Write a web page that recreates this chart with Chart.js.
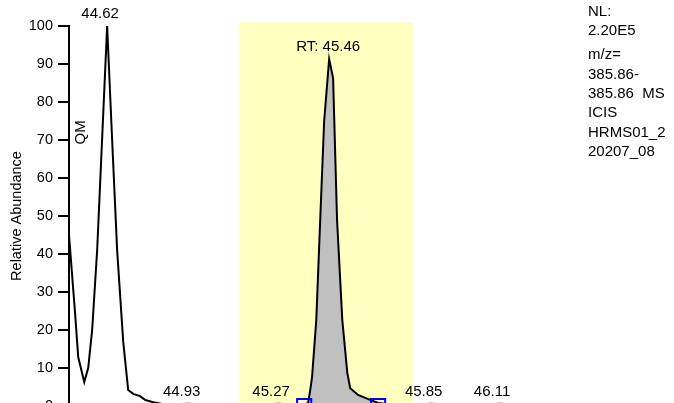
<!DOCTYPE html>
<html>
<head>
<meta charset="utf-8">
<script src="https://cdn.jsdelivr.net/npm/chart.js@4"></script>
<style>
  html,body{margin:0;padding:0;background:#fff;overflow:hidden;}
  #wrap{width:674px;height:430px;}
</style>
</head>
<body>
<div id="wrap"><canvas id="chrom" width="674" height="430"></canvas></div>
<script>
// retention time (min) and relative abundance (%)
const rtMinutes = [44.475,44.498,44.510,44.533,44.548,44.563,44.582,44.601,44.620,44.639,44.658,44.681,44.700,44.719,44.745,44.764,44.795,
  44.84,44.93,45.00,45.10,45.20,45.27,45.33,45.369,45.384,45.392,45.399,45.415,45.430,45.445,45.464,45.479,45.494,45.514,45.533,45.544,
  45.574,45.620,45.650,45.70,45.78,45.85,45.95,46.05,46.11,46.20,46.30,46.41];
const relAbundance = [45,24.5,12.9,6.3,10,20,41,70.5,100,70,41,17,4.2,3.2,2.6,1.6,1.0,
  0.4,0.6,0.3,0.2,0.3,0.6,0.4,0.4,0.8,4.2,7.6,22.6,49,75,91.3,86.3,49,22.6,8.7,4.7,
  2.9,1.6,0.8,0.4,0.3,0.6,0.3,0.3,0.6,0.3,0.2,0.2];

const yTicks = [0,10,20,30,40,50,60,70,80,90,100];
const peakTimes = [44.62,44.93,45.27,45.46,45.85,46.11];
const peakLabels = ["44.62","44.93","45.27","RT: 45.46","45.85","46.11"];
const integStart = 45.369, integEnd = 45.650;
const windowStart = 45.122, windowEnd = 45.783, windowTop = 101;
const infoLines = ["NL:","2.20E5","m/z=","385.86-","385.86  MS","ICIS","HRMS01_2","20207_08"];
const sideLabel = "QM";

const FONT = "Arial, 'Liberation Sans', sans-serif";
const $ = id => document.getElementById(id);

const trace = rtMinutes.map((t,i)=>({x:t,y:relAbundance[i]}));
const area = trace.filter(p=>p.x>=integStart-1e-6 && p.x<=integEnd+1e-6);
const markers = [{x:integStart,y:0},{x:integEnd,y:0}];

function valueAt(t){
  let best=0, d=Infinity;
  rtMinutes.forEach((r,i)=>{ if(Math.abs(r-t)<d){d=Math.abs(r-t);best=relAbundance[i];} });
  return best;
}

const decor = {
  id:"decor",
  beforeDatasetsDraw(c){
    const {ctx,scales:{x,y},chartArea:a}=c;
    const l=x.getPixelForValue(windowStart), r=x.getPixelForValue(windowEnd), t=y.getPixelForValue(windowTop);
    ctx.save();
    ctx.fillStyle="#ffffbf";
    ctx.fillRect(l,t,r-l,a.bottom-t);
    ctx.restore();
  },
  afterDatasetsDraw(c){
    const {ctx,scales:{x,y},chartArea:a}=c;
    ctx.save();
    ctx.fillStyle="#000";
    ctx.font="15px "+FONT;
    ctx.textAlign="center";
    ctx.textBaseline="middle";
    peakLabels.forEach((lab,i)=>{
      const shift=lab.startsWith("RT")?0:-7;
      ctx.fillText(lab,x.getPixelForValue(peakTimes[i])+shift,y.getPixelForValue(valueAt(peakTimes[i]))-12);
    });
    // QM rotated
    ctx.save();
    ctx.translate(a.left+12,y.getPixelForValue(72));
    ctx.rotate(-Math.PI/2);
    ctx.fillText(sideLabel,0,0);
    ctx.restore();
    // info block
    ctx.textAlign="left";
    ctx.font="15px "+FONT;
    let yy=12;
    infoLines.forEach((s,i)=>{
      ctx.fillText(s,a.right+10,yy);
      yy+= i===1?24:19.3;
    });
    ctx.restore();
  }
};

new Chart($("chrom"),{
  type:"line",
  data:{datasets:[
    {data:markers,showLine:false,pointStyle:"rect",pointRadius:10,pointBorderColor:"#0000ff",pointBackgroundColor:"rgba(0,0,0,0)",pointBorderWidth:2,order:-1},
    {data:trace,borderColor:"#000",borderWidth:2,pointRadius:0,tension:0,fill:false,order:0},
    {data:area,borderWidth:0,pointRadius:0,tension:0,fill:"origin",backgroundColor:"#c0c0c0",order:1}
  ]},
  options:{
    responsive:false,
    animation:false,
    events:[],
    layout:{padding:{top:26,right:96,bottom:24,left:0}},
    plugins:{legend:{display:false},tooltip:{enabled:false}},
    scales:{
      x:{type:"linear",display:false,min:rtMinutes[0],max:rtMinutes[rtMinutes.length-1]},
      y:{
        min:yTicks[0],max:yTicks[yTicks.length-1],
        afterBuildTicks(s){ s.ticks=yTicks.map(v=>({value:v})); },
        afterFit(s){ s.width=69; },
        ticks:{color:"#000",font:{size:14.5,family:FONT},padding:5},
        grid:{display:true,drawOnChartArea:false,drawTicks:true,tickLength:11,color:"#000",lineWidth:2},
        border:{color:"#000",width:2},
        title:{display:true,text:"Relative Abundance",color:"#000",font:{size:14.5,family:FONT},padding:{top:8,bottom:0}}
      }
    }
  },
  plugins:[decor]
});
</script>
</body>
</html>
